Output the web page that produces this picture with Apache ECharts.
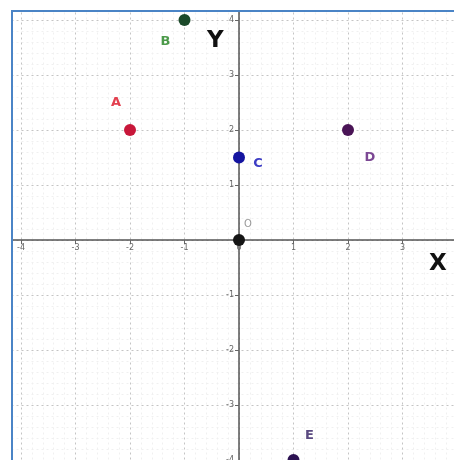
<!DOCTYPE html>
<html>
<head>
<meta charset="utf-8">
<script src="https://cdn.jsdelivr.net/npm/echarts@6/dist/echarts.min.js"></script>
<style>html,body{margin:0;padding:0;background:#fff;}#c{width:454px;height:460px;}</style>
</head>
<body>
<div id="c"></div>
<script>
// data
var pointNames = ['A', 'B', 'C', 'D', 'E', 'O'];
var pointX = [-2, -1, 0, 2, 1, 0];
var pointY = [2, 4, 1.5, 2, -4, 0];
var xTickValues = [-4, -3, -2, -1, 0, 1, 2, 3];
var yTickValues = [-4, -3, -2, -1, 1, 2, 3, 4];

// styles (kept apart from data)
var markerColors = ['#c8173a', '#1b4a2a', '#1414a0', '#4a1456', '#2c1252', '#151515'];
var labelColors = ['#e2404f', '#4c9a4a', '#3c3cc4', '#7c4894', '#5a4a80', '#999999'];
var labelOffsets = [[-14, -27], [-19, 22], [19, 6], [22, 28], [16, -24], [9, -16]];
var labelSizes = [13, 13, 13, 13, 13, 10];

var chart = echarts.init(document.getElementById('c'));
var data = pointNames.map(function (n, i) {
  return {
    name: n,
    value: [pointX[i], pointY[i]],
    itemStyle: { color: markerColors[i], opacity: 1 },
    label: {
      show: true,
      formatter: '{b}',
      position: 'inside',
      offset: labelOffsets[i],
      color: labelColors[i],
      fontSize: labelSizes[i],
      fontWeight: i === 5 ? 'normal' : 'bold',
      fontFamily: 'DejaVu Sans'
    }
  };
});

function axisCommon(ticks) {
  return {
    type: 'value',
    interval: 1,
    axisLine: { onZero: false, lineStyle: { color: '#555', width: 1.5 } },
    axisTick: { show: true, length: 4, lineStyle: { color: '#666' } },
    minorTick: { show: false, splitNumber: 5 },
    splitLine: { show: true, lineStyle: { color: '#c4c4c4', type: [2, 3], width: 1 } },
    minorSplitLine: { show: true, lineStyle: { color: '#f0f0f0', type: [2, 3], width: 1 } },
    axisLabel: {
      fontSize: 8,
      color: '#666',
      fontFamily: 'DejaVu Sans',
      formatter: function (v) { return (ticks.indexOf(v) >= 0) ? String(v) : ''; }
    }
  };
}

// scale: x from -5 (px -33.5) to 4 (px 457); y from -5 (px 515) to 4.5 (px -7.5)
var xa = axisCommon(xTickValues);
xa.min = -5; xa.max = 4;
xa.position = 'bottom';
xa.offset = -275;
xa.axisLabel.margin = 4;
var ya = axisCommon(yTickValues);
ya.min = -5; ya.max = 4.5;
ya.position = 'left';
ya.offset = -272.5;
ya.axisLabel.margin = 5;

chart.setOption({
  animation: false,
  backgroundColor: '#fff',
  grid: { left: -33.5, right: -3, top: -7.5, bottom: -55, containLabel: false, outerBoundsMode: 'none' },
  xAxis: xa,
  yAxis: ya,
  series: [{
    type: 'scatter',
    symbolSize: 12,
    data: data,
    z: 5
  }],
  graphic: [
    { type: 'rect', shape: { x: 0, y: 0, width: 454, height: 10 }, style: { fill: '#fff' }, z: 100 },
    { type: 'rect', shape: { x: 0, y: 0, width: 11, height: 460 }, style: { fill: '#fff' }, z: 100 },
    { type: 'line', shape: { x1: 12, y1: 11, x2: 454, y2: 11 }, style: { stroke: '#4a84c6', lineWidth: 2 }, z: 101 },
    { type: 'line', shape: { x1: 12, y1: 10, x2: 12, y2: 460 }, style: { stroke: '#4a84c6', lineWidth: 2 }, z: 101 },
    { type: 'text', left: 207, top: 30, style: { text: 'Y', fontSize: 23, fontWeight: 'bold', fill: '#111', fontFamily: 'DejaVu Sans' }, z: 102 },
    { type: 'text', left: 429, top: 253, style: { text: 'X', fontSize: 23, fontWeight: 'bold', fill: '#111', fontFamily: 'DejaVu Sans' }, z: 102 }
  ]
});
</script>
</body>
</html>
